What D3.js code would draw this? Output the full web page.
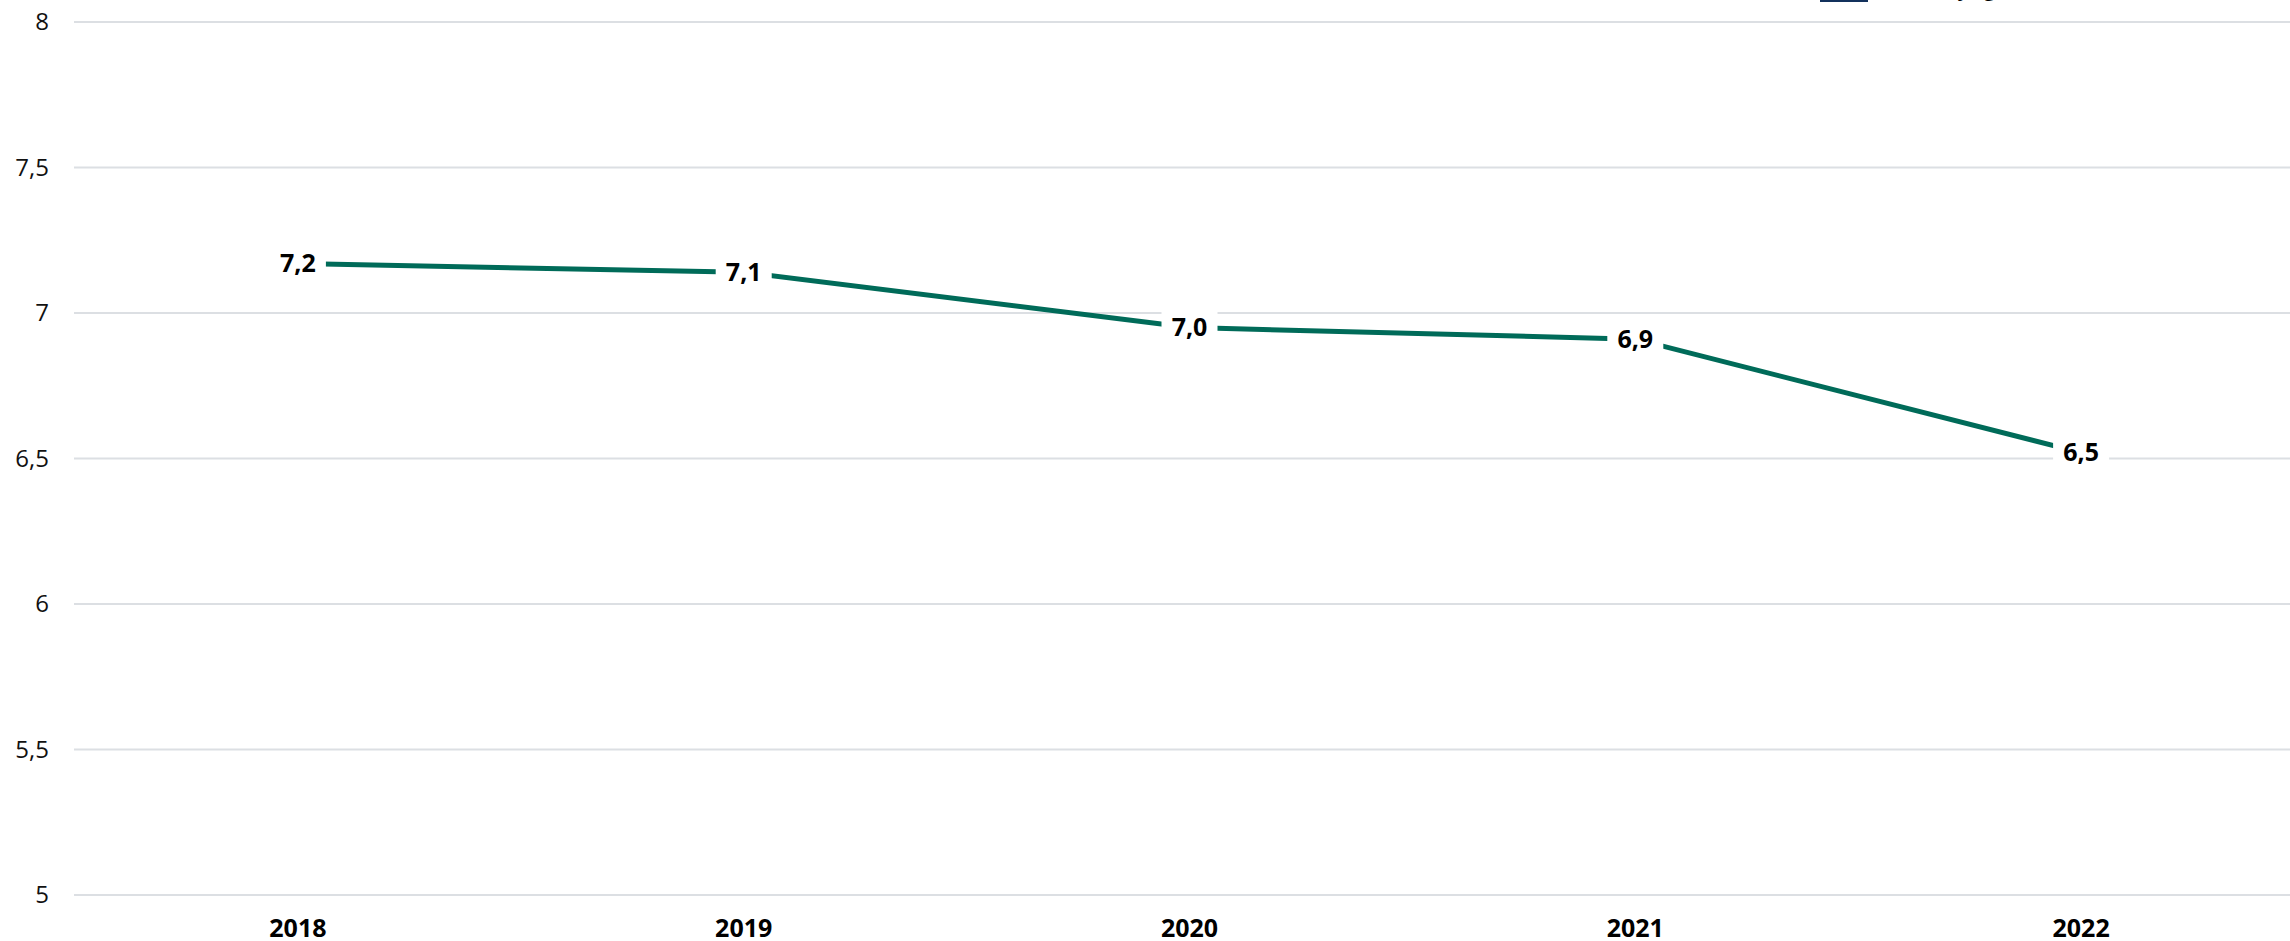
<!DOCTYPE html>
<html>
<head>
<meta charset="utf-8">
<script src="https://cdn.jsdelivr.net/npm/d3@7"></script>
<style>
  html, body { margin: 0; padding: 0; background: #fff; overflow: hidden; }
  svg { display: block; font-family: "Open Sans", "Noto Sans", sans-serif; }
</style>
</head>
<body>
<svg id="chart" width="2290" height="941"></svg>
<script>
const categories = ["2018", "2019", "2020", "2021", "2022"];
const values = [7.17, 7.14, 6.95, 6.91, 6.52];
const valueLabels = ["7,2", "7,1", "7,0", "6,9", "6,5"];
const yTicks = [5, 5.5, 6, 6.5, 7, 7.5, 8];
const yTickLabels = ["5", "5,5", "6", "6,5", "7", "7,5", "8"];
const legendLabel = ["Landelijk gemiddelde"];

const svg = d3.select("#chart");
const W = 2290, H = 941;

const x = d3.scaleBand().domain(categories).range([75, 2304]).padding(0);
const y = d3.scaleLinear().domain([5, 8]).range([895, 22]);

// gridlines
svg.append("g")
  .selectAll("line")
  .data(yTicks)
  .join("line")
  .attr("x1", 74).attr("x2", W)
  .attr("y1", d => y(d)).attr("y2", d => y(d))
  .attr("stroke", "#dcdfe3").attr("stroke-width", 2);

// y axis labels
const yAxis = d3.axisLeft(y).tickValues(yTicks)
  .tickFormat((d, i) => yTickLabels[i]).tickSize(0).tickPadding(0);
const gy = svg.append("g").attr("transform", "translate(49,0)").call(yAxis);
gy.select(".domain").remove();
gy.selectAll("text").attr("font-size", 24).attr("fill", "#111")
  .attr("font-family", "'Open Sans', 'Noto Sans', sans-serif");

// x axis labels
const xAxis = d3.axisBottom(x).tickSize(0).tickPadding(0);
const gx = svg.append("g").attr("transform", "translate(0,919)").call(xAxis);
gx.select(".domain").remove();
gx.selectAll("text").attr("font-size", 25).attr("font-weight", "bold").attr("fill", "#000")
  .attr("dy", "0.72em")
  .attr("font-family", "'Open Sans', 'Noto Sans', sans-serif");

const cx = d => x(d) + x.bandwidth() / 2;

// line
const line = d3.line()
  .x((d, i) => cx(categories[i]))
  .y(d => y(d));
svg.append("path")
  .datum(values)
  .attr("d", line)
  .attr("fill", "none")
  .attr("stroke", "#006b59")
  .attr("stroke-width", 5)
  .attr("stroke-linejoin", "round");

// data labels
const lab = svg.append("g").selectAll("g")
  .data(values)
  .join("g")
  .attr("transform", (d, i) => `translate(${cx(categories[i])},${y(d)})`);
lab.append("rect")
  .attr("x", -28).attr("y", -17).attr("width", 56).attr("height", 34)
  .attr("fill", "#fff");
lab.append("text")
  .attr("text-anchor", "middle")
  .attr("dy", "0.35em")
  .attr("font-size", 25)
  .attr("font-weight", "bold")
  .attr("fill", "#000")
  .text((d, i) => valueLabels[i]);

// legend (mostly cut off at top)
const leg = svg.append("g").attr("transform", "translate(1820,0)");
leg.append("rect").attr("x", 0).attr("y", -28).attr("width", 48).attr("height", 30).attr("fill", "#13315c");
leg.append("text").attr("x", 62).attr("y", -5).attr("font-size", 23).attr("fill", "#000")
  .text(legendLabel[0]);
</script>
</body>
</html>
